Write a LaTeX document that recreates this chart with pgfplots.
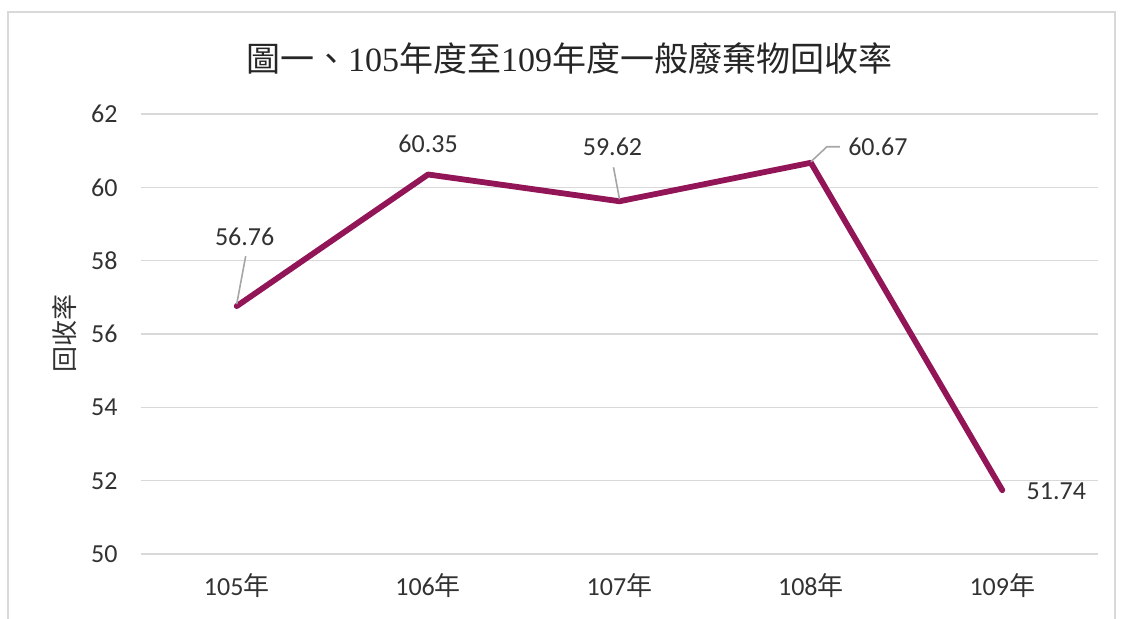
\documentclass[border=0pt]{standalone}
\usepackage{pgfplots}
\pgfplotsset{compat=1.18}
\usepackage{fontspec}
\setmainfont{Carlito}
\newfontfamily\cjk{Noto Sans CJK TC}
\newfontfamily\serifdig{Liberation Serif}
\definecolor{linec}{RGB}{146,21,88}
\definecolor{gridc}{RGB}{217,217,217}
\definecolor{txt}{RGB}{50,50,50}
\definecolor{leadc}{RGB}{166,166,166}
\begin{document}
\begin{tikzpicture}
\path[use as bounding box] (-70.5pt,-32.5pt) rectangle (491pt,277pt);
\draw[gridc, line width=1pt] (-66.5pt,-40pt) -- (-66.5pt,271pt) -- (487pt,271pt) -- (487pt,-40pt);
\begin{axis}[
  at={(0,0)}, anchor=south west,
  scale only axis, width=478.5pt, height=220pt,
  xmin=-0.5, xmax=4.5, ymin=50, ymax=62,
  ytick={50,52,54,56,58,60,62},
  xtick={0,1,2,3,4},
  xticklabels={105{\cjk 年},106{\cjk 年},107{\cjk 年},108{\cjk 年},109{\cjk 年}},
  axis line style={draw=none},
  major tick length=0pt,
  ymajorgrids,
  grid style={gridc, line width=0.8pt},
  clip=false,
  /pgf/number format/assume math mode=true,
  ticklabel style={font=\fontsize{13}{15}\selectfont, text=txt},
  yticklabel style={anchor=east, inner sep=0pt, xshift=-11.5pt},
  xticklabel style={anchor=base, inner sep=0pt, yshift=-21pt},
]
\addplot[linec, line width=2.9pt, line cap=round, line join=round, mark=none]
  coordinates {(0,56.76) (1,60.35) (2,59.62) (3,60.67) (4,51.74)};
% leader lines
\draw[leadc, line width=0.8pt] ([shift={(0pt,1pt)}]axis cs:0,56.76) -- ([shift={(4.5pt,25pt)}]axis cs:0,56.76);
\draw[leadc, line width=0.8pt] ([shift={(0pt,1pt)}]axis cs:2,59.62) -- ([shift={(-3pt,17pt)}]axis cs:2,59.62);
\draw[leadc, line width=0.8pt] ([shift={(0pt,0.5pt)}]axis cs:3,60.67) -- ([shift={(8pt,8pt)}]axis cs:3,60.67) -- ([shift={(14.5pt,8pt)}]axis cs:3,60.67);
% data labels
\begin{scope}[every node/.style={font=\fontsize{13}{15}\selectfont, text=txt, inner sep=0pt}]
\node at ([shift={(4pt,34.5pt)}]axis cs:0,56.76) {56.76};
\node at ([shift={(0pt,15.5pt)}]axis cs:1,60.35) {60.35};
\node at ([shift={(-3.5pt,27pt)}]axis cs:2,59.62) {59.62};
\node[anchor=west] at ([shift={(18.5pt,8pt)}]axis cs:3,60.67) {60.67};
\node[anchor=west] at ([shift={(12pt,-0.5pt)}]axis cs:4,51.74) {51.74};
\end{scope}
\end{axis}
\node[rotate=90, font=\cjk\fontsize{13}{15}\selectfont, text=txt] at (-38pt,110pt) {回收率};
\node[anchor=base, font=\fontsize{17}{20}\selectfont, text=black!85] at (214pt,241pt)
  {\cjk 圖一、\serifdig 105\cjk 年度至\serifdig 109\cjk 年度一般廢棄物回收率};
\end{tikzpicture}
\end{document}
